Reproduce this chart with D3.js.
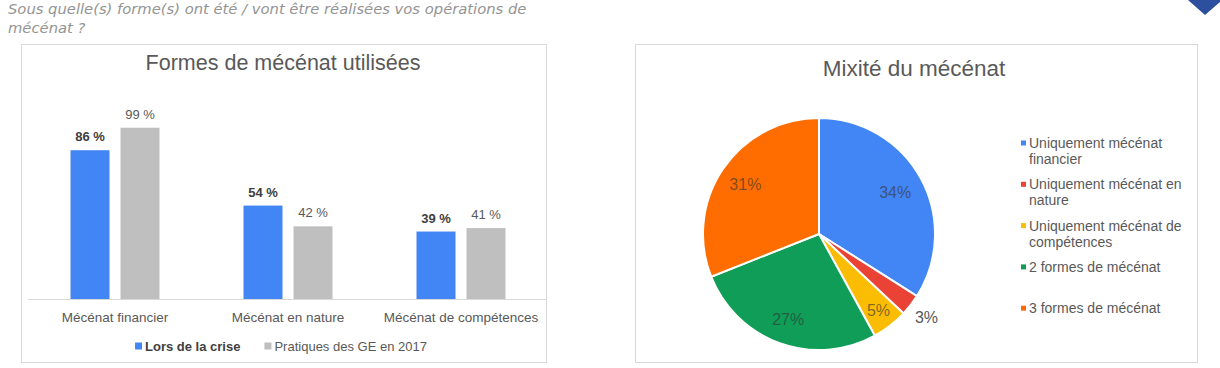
<!DOCTYPE html>
<html><head><meta charset="utf-8">
<script src="https://cdn.jsdelivr.net/npm/d3@7"></script>
<style>
html,body{margin:0;padding:0;background:#fff;}
svg{display:block;}
</style></head>
<body>
<svg id="chart" width="1220" height="368"></svg>
<script>
// ---------- data ----------
const subtitleLines = ["Sous quelle(s) forme(s) ont été / vont être réalisées vos opérations de", "mécénat ?"];
const barTitle = "Formes de mécénat utilisées";
const barCategories = ["Mécénat financier", "Mécénat en nature", "Mécénat de compétences"];
const barSeries = ["Lors de la crise", "Pratiques des GE en 2017"];
const crisisValues = [86, 54, 39];
const practiceValues = [99, 42, 41];
const barColors = ["#4285f4", "#bfbfbf"];

const pieTitle = "Mixité du mécénat";
const pieCategories = ["Uniquement mécénat financier", "Uniquement mécénat en nature", "Uniquement mécénat de compétences", "2 formes de mécénat", "3 formes de mécénat"];
const pieValues = [34, 3, 5, 27, 31];
const pieColors = ["#4285f4", "#ea4335", "#fbbc04", "#0f9d58", "#ff6d01"];

const FONT = "'Liberation Sans', Arial, sans-serif";
const svg = d3.select("#chart");

// ---------- subtitle ----------
const sub = svg.append("g").attr("font-family", "'DejaVu Sans', sans-serif")
  .attr("font-style", "italic").attr("font-size", 13).attr("fill", "#949494");
sub.selectAll("text").data(subtitleLines).join("text")
  .attr("x", 8).attr("y", (d, i) => 14 + i * 18.5).text(d => d);
const l1 = sub.select("text").node();
const w1 = l1.getComputedTextLength();
sub.attr("font-size", 13 * 519 / w1);

// corner mark
svg.append("path").attr("d", "M1188,0 L1205,15 L1220,2 L1220,0 Z").attr("fill", "#2c4f9e");

// ---------- bar chart panel ----------
svg.append("rect").attr("x", 21.5).attr("y", 44.5).attr("width", 525).attr("height", 318)
  .attr("fill", "#fff").attr("stroke", "#d9d9d9");
svg.append("text").attr("x", 283).attr("y", 69.5).attr("text-anchor", "middle")
  .attr("font-family", FONT).attr("font-size", 21.5).attr("fill", "#595959").text(barTitle);

const x0 = d3.scaleBand().domain(barCategories).range([28.5, 547.5]);
const x1 = d3.scaleBand().domain(barSeries).range([42, 131]).paddingInner(0.22);
const y = d3.scaleLinear().domain([0, 100]).range([299, 126]);

const rows = barCategories.map((c, i) => ({cat: c, vals: [crisisValues[i], practiceValues[i]]}));
const groups = svg.append("g").selectAll("g").data(rows).join("g")
  .attr("transform", d => `translate(${x0(d.cat)},0)`);
groups.selectAll("rect").data(d => d.vals.map((v, j) => ({s: barSeries[j], v, j}))).join("rect")
  .attr("x", d => x1(d.s)).attr("width", x1.bandwidth())
  .attr("y", d => y(d.v)).attr("height", d => y(0) - y(d.v))
  .attr("fill", d => barColors[d.j]);
groups.selectAll("text.val").data(d => d.vals.map((v, j) => ({s: barSeries[j], v, j}))).join("text")
  .attr("class", "val")
  .attr("x", d => x1(d.s) + x1.bandwidth() / 2).attr("y", d => y(d.v) - 9)
  .attr("text-anchor", "middle").attr("font-family", FONT).attr("font-size", 13)
  .attr("font-weight", d => d.j === 0 ? "bold" : "normal")
  .attr("fill", d => d.j === 0 ? "#404040" : "#595959")
  .text(d => d.v + " %");

// axis
const xAxis = svg.append("g").attr("transform", `translate(0,${y(0)})`)
  .call(d3.axisBottom(x0).tickSize(0).tickPadding(13));
xAxis.select(".domain").attr("d", "M28,0.5H546").attr("stroke", "#d9d9d9");
xAxis.selectAll("text").attr("font-family", FONT).attr("font-size", 13.5).attr("fill", "#595959");

// bar legend
const lg = svg.append("g").attr("font-family", FONT).attr("font-size", 13);
const lgItems = lg.selectAll("g").data(barSeries).join("g");
lgItems.append("rect").attr("width", 7).attr("height", 7).attr("y", 342.5)
  .attr("fill", (d, i) => barColors[i]);
lgItems.append("text").attr("y", 351).attr("x", 10)
  .attr("font-weight", (d, i) => i === 0 ? "bold" : "normal")
  .attr("fill", (d, i) => i === 0 ? "#404040" : "#595959").text(d => d);
let widths = lgItems.nodes().map(n => 10 + d3.select(n).select("text").node().getComputedTextLength());
const lgGap = 24;
const total = d3.sum(widths) + lgGap * (widths.length - 1);
let cx = 281 - total / 2;
lgItems.each(function(d, i) {
  d3.select(this).attr("transform", `translate(${cx},0)`);
  cx += widths[i] + lgGap;
});

// ---------- pie panel ----------
svg.append("rect").attr("x", 635.5).attr("y", 44.5).attr("width", 562).attr("height", 318)
  .attr("fill", "#fff").attr("stroke", "#d9d9d9");
svg.append("text").attr("x", 914).attr("y", 76).attr("text-anchor", "middle")
  .attr("font-family", FONT).attr("font-size", 22.5).attr("fill", "#595959").text(pieTitle);

const pcx = 819, pcy = 234, R = 116;
const pieData = pieCategories.map((c, i) => ({cat: c, v: pieValues[i], i}));
const pie = d3.pie().value(d => d.v).sort(null);
const arcs = pie(pieData);
const arc = d3.arc().innerRadius(0).outerRadius(R);
const pg = svg.append("g").attr("transform", `translate(${pcx},${pcy})`);
pg.selectAll("path").data(arcs).join("path")
  .attr("d", arc).attr("fill", d => pieColors[d.data.i])
  .attr("stroke", "#fff").attr("stroke-width", 2).attr("stroke-linejoin", "round");

const labelR = [87, 0, 97, 91, 89];
pg.selectAll("text").data(arcs).join("text")
  .attr("transform", d => {
    const a = (d.startAngle + d.endAngle) / 2;
    const r = d.data.v < 4 ? R + 20 : labelR[d.data.i];
    return `translate(${Math.sin(a) * r},${-Math.cos(a) * r})`;
  })
  .attr("dy", "0.36em").attr("text-anchor", "middle")
  .attr("font-family", FONT).attr("font-size", 16)
  .attr("fill", d => d.data.v < 4 ? "#595959" : "#333")
  .attr("fill-opacity", d => d.data.v < 4 ? 1 : 0.62)
  .text(d => d.data.v + "%");

// pie legend with wrapping
const pl = svg.append("g").attr("font-family", FONT).attr("font-size", 14).attr("fill", "#595959");
const maxW = 170;
pieData.forEach((d, k) => {
  const yc = 143 + k * 41.3;
  pl.append("rect").attr("x", 1021).attr("y", yc - 2.5).attr("width", 5).attr("height", 5)
    .attr("fill", pieColors[d.i]);
  const t = pl.append("text").attr("x", 1029).attr("y", yc + 5);
  const words = d.cat.split(" ");
  let line = [];
  let ts = t.append("tspan").attr("x", 1029).attr("dy", 0);
  words.forEach(w => {
    line.push(w);
    ts.text(line.join(" "));
    if (ts.node().getComputedTextLength() > maxW && line.length > 1) {
      line.pop();
      ts.text(line.join(" "));
      line = [w];
      ts = t.append("tspan").attr("x", 1029).attr("dy", 16).text(w);
    }
  });
});
</script>
</body></html>
